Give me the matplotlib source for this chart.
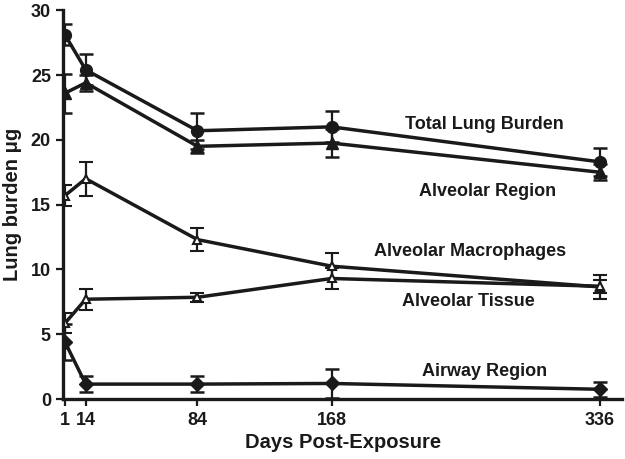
import numpy as np
import matplotlib
matplotlib.use('Agg')
import matplotlib.pyplot as plt

plt.rcParams['font.family'] = ['Liberation Sans', 'DejaVu Sans']
plt.rcParams['font.weight'] = 'bold'

days = [1, 14, 84, 168, 336]

total = [28.1, 25.4, 20.7, 21.0, 18.3]
total_err = [0.8, 1.2, 1.4, 1.2, 1.1]

alv_region = [23.6, 24.4, 19.5, 19.75, 17.5]
alv_region_err = [1.5, 0.6, 0.5, 1.1, 0.6]

macro = [15.7, 17.0, 12.3, 10.25, 8.65]
macro_err = [0.8, 1.3, 0.9, 1.0, 0.9]

tissue = [5.85, 7.7, 7.85, 9.3, 8.7]
tissue_err = [0.75, 0.8, 0.35, 0.8, 0.5]

airway = [4.4, 1.15, 1.15, 1.2, 0.75]
airway_err = [1.4, 0.6, 0.6, 1.1, 0.6]

ink = '#1a1a1a'

fig = plt.figure(figsize=(6.25, 4.59), dpi=100)
ax = fig.add_axes([0.1014, 0.1307, 0.894, 0.847])

kw = dict(color=ink, lw=2.5, capsize=5, elinewidth=1.6, capthick=1.8)
ax.errorbar(days, total, yerr=total_err, marker='o', ms=8.5, mfc=ink, mec=ink, **kw)
ax.errorbar(days, alv_region, yerr=alv_region_err, marker='^', ms=8.5, mfc=ink, mec=ink, **kw)
ax.errorbar(days, macro, yerr=macro_err, marker='^', ms=6, mfc='white', mec=ink, mew=1.5, **kw)
ax.errorbar(days, tissue, yerr=tissue_err, marker='^', ms=6, mfc='white', mec=ink, mew=1.5, **kw)
ax.errorbar(days, airway, yerr=airway_err, marker='D', ms=7.5, mfc=ink, mec=ink, **kw)

# series labels
lbl = dict(ha='center', va='center', fontsize=13, fontweight='bold', color=ink)
ax.text(264, 21.2, 'Total Lung Burden', **lbl)
ax.text(266, 16.0, 'Alveolar Region', **lbl)
ax.text(255, 11.4, 'Alveolar Macrophages', **lbl)
ax.text(254, 7.5, 'Alveolar Tissue', **lbl)
ax.text(264, 2.1, 'Airway Region', **lbl)

ax.set_xlim(0, 350)
ax.set_ylim(0, 30)
ax.set_xticks(days)
ax.set_xticklabels(['1', '14', '84', '168', '336'])
ax.set_yticks([0, 5, 10, 15, 20, 25, 30])

for s in ['top', 'right']:
    ax.spines[s].set_visible(False)
for s in ['left', 'bottom']:
    ax.spines[s].set_linewidth(2.4)
    ax.spines[s].set_color(ink)
ax.spines['left'].set_bounds(0, 30)

ax.tick_params(direction='out', length=5, width=1.6, colors=ink,
               labelsize=13, pad=4)
for t in ax.get_xticklabels() + ax.get_yticklabels():
    t.set_fontweight('bold')

ax.set_xlabel('Days Post-Exposure', fontsize=14.5, fontweight='bold', color=ink, labelpad=3)
ax.set_ylabel('Lung burden \u03bcg', fontsize=14.5, fontweight='bold', color=ink, labelpad=6)

fig.savefig('out.png', dpi=100)
